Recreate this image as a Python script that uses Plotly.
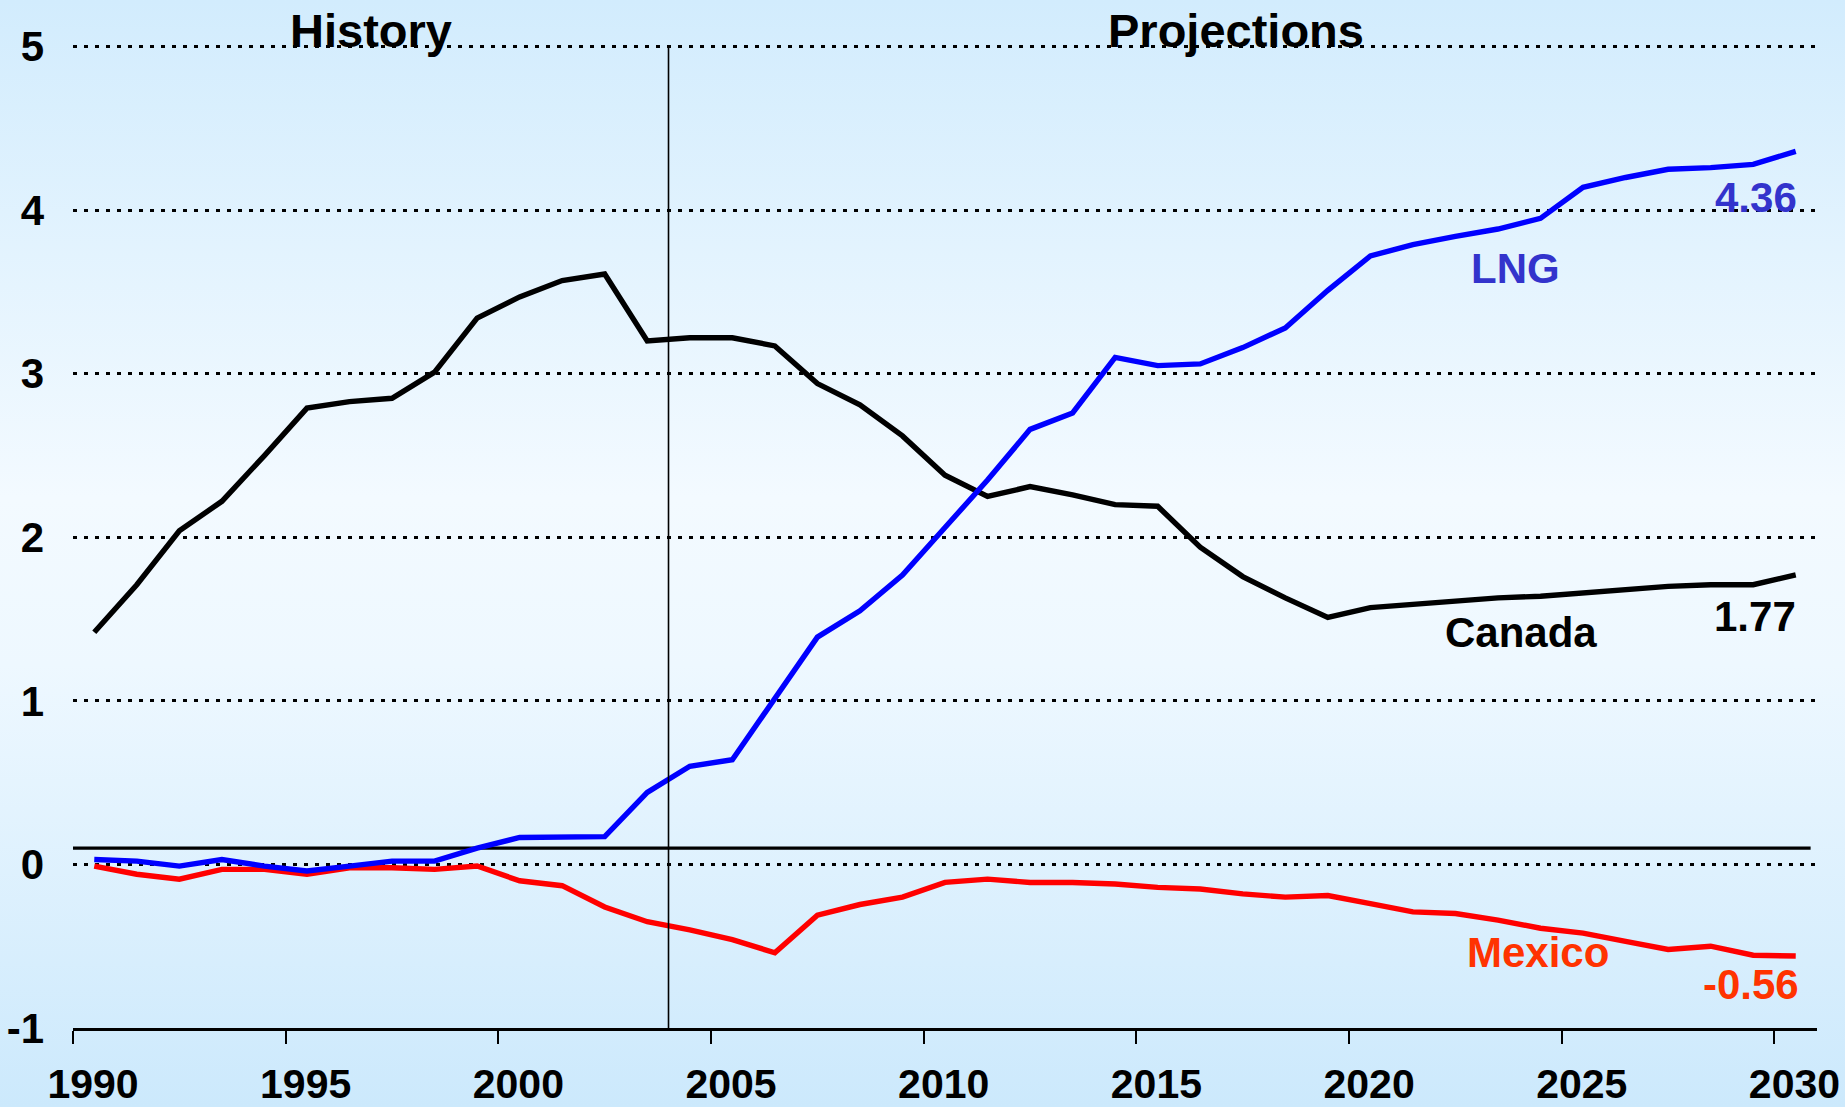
import base64
import plotly.graph_objects as go

# ---------------- data ----------------
years = list(range(1990, 2031))

canada = [1.42, 1.71, 2.04, 2.22, 2.50, 2.79, 2.83, 2.85, 3.01, 3.34,
          3.47, 3.57, 3.61, 3.20, 3.22, 3.22, 3.17, 2.94, 2.81, 2.62,
          2.38, 2.25, 2.31, 2.26, 2.20, 2.19, 1.94, 1.76, 1.63, 1.51,
          1.57, 1.59, 1.61, 1.63, 1.64, 1.66, 1.68, 1.70, 1.71, 1.71, 1.77]

lng = [0.03, 0.02, -0.01, 0.03, -0.01, -0.04, -0.01, 0.02, 0.02, 0.10,
       0.165, 0.17, 0.17, 0.44, 0.60, 0.64, 1.02, 1.39, 1.55, 1.77,
       2.06, 2.35, 2.66, 2.76, 3.10, 3.05, 3.06, 3.16, 3.28, 3.51,
       3.72, 3.79, 3.84, 3.885, 3.95, 4.14, 4.20, 4.25, 4.26, 4.28, 4.36]

mexico = [-0.01, -0.06, -0.09, -0.03, -0.03, -0.06, -0.02, -0.02, -0.03, -0.01,
          -0.10, -0.13, -0.26, -0.35, -0.40, -0.46, -0.54, -0.31, -0.245, -0.20,
          -0.11, -0.09, -0.11, -0.11, -0.12, -0.14, -0.15, -0.18, -0.20, -0.19,
          -0.24, -0.29, -0.30, -0.34, -0.39, -0.42, -0.47, -0.52, -0.50, -0.555, -0.56]

x_ticks = [1990, 1995, 2000, 2005, 2010, 2015, 2020, 2025, 2030]
y_ticks = [-1, 0, 1, 2, 3, 4, 5]

divider_year = 2004
baseline_value = 0.1

end_labels = {"LNG": "4.36", "Canada": "1.77", "Mexico": "-0.56"}

# ---------------- layout constants ----------------
W, H = 1845, 1107
ML, MR, MT, MB = 73, 28, 45, 79
FONT = "Liberation Sans, Arial, sans-serif"
pw, ph = W - ML - MR, H - MT - MB

xpos = [y + 0.5 for y in years]  # points sit in the middle of each year

fig = go.Figure()

LW = 5.4
fig.add_trace(go.Scatter(x=xpos, y=canada, mode="lines", name="Canada",
                         line=dict(color="#000000", width=LW), showlegend=False))
fig.add_trace(go.Scatter(x=xpos, y=mexico, mode="lines", name="Mexico",
                         line=dict(color="#FF0000", width=LW), showlegend=False))
fig.add_trace(go.Scatter(x=xpos, y=lng, mode="lines", name="LNG",
                         line=dict(color="#0000FF", width=LW), showlegend=False))

# background gradient as an SVG image
svg = f'''<svg xmlns="http://www.w3.org/2000/svg" width="{W}" height="{H}" viewBox="0 0 {W} {H}" preserveAspectRatio="none">
<defs><linearGradient id="g" x1="0" y1="0" x2="0" y2="1">
<stop offset="0" stop-color="#D2ECFD"/>
<stop offset="0.45" stop-color="#F3FAFF"/>
<stop offset="0.6" stop-color="#EEF8FF"/>
<stop offset="1" stop-color="#CCE9FC"/>
</linearGradient></defs>
<rect x="0" y="0" width="{W}" height="{H}" fill="url(#g)"/></svg>'''
src = "data:image/svg+xml;base64," + base64.b64encode(svg.encode()).decode()
fig.add_layout_image(dict(source=src, xref="paper", yref="paper",
                          x=-ML / pw, y=1 + MT / ph, sizex=W / pw, sizey=H / ph,
                          xanchor="left", yanchor="top", sizing="stretch",
                          layer="below"))

# reference lines
fig.add_shape(type="line", xref="x", yref="y", x0=divider_year, x1=divider_year,
              y0=-1, y1=5, line=dict(color="#000000", width=1.6), layer="above")
fig.add_shape(type="line", xref="x", yref="y", x0=1989.84, x1=2030.85,
              y0=baseline_value, y1=baseline_value,
              line=dict(color="#000000", width=3.2), layer="below")

def ann(text, x, y, color, size=42, yref="y"):
    fig.add_annotation(x=x, y=y, xref="x", yref=yref, text=text, showarrow=False,
                       xanchor="center", yanchor="middle",
                       font=dict(family=FONT, size=size, color=color, weight="bold"))

title_y = (H - MB - 30) / ph  # paper coordinate of the heading centre
ann("History", 1997.0, title_y, "#000000", size=47, yref="paper")
ann("Projections", 2017.34, title_y, "#000000", size=47, yref="paper")
ann("LNG", 2023.92, 3.646, "#3333CC")
ann(end_labels["LNG"], 2029.57, 4.08, "#3333CC")
ann("Canada", 2024.04, 1.418, "#000000")
ann(end_labels["Canada"], 2029.54, 1.513, "#000000")
ann("Mexico", 2024.44, -0.536, "#FF3300")
ann(end_labels["Mexico"], 2029.45, -0.737, "#FF3300")

fig.update_layout(
    width=W, height=H,
    margin=dict(l=ML, r=MR, t=MT, b=MB, autoexpand=False),
    paper_bgcolor="#E4F3FE",
    plot_bgcolor="rgba(0,0,0,0)",
    font=dict(family=FONT, color="#000000"),
    showlegend=False,
)

fig.update_xaxes(
    range=[1990, 2031], tickmode="array", tickvals=x_ticks,
    ticktext=[str(v) for v in x_ticks], automargin=False,
    showgrid=False, zeroline=False,
    showline=True, linecolor="#000000", linewidth=2.5,
    ticks="outside", ticklen=13, tickwidth=2, tickcolor="#000000",
    tickfont=dict(family=FONT, size=41, color="#000000", weight="bold"),
    ticklabelshift=20, ticklabelstandoff=5,
)

fig.update_yaxes(
    range=[-1, 5.01], tickmode="array", tickvals=y_ticks,
    ticktext=[str(v) for v in y_ticks], automargin=False,
    showgrid=True, gridcolor="#000000", gridwidth=2.6, griddash="4px,7px",
    zeroline=False, showline=False, ticks="",
    tickfont=dict(family=FONT, size=42, color="#000000", weight="bold"),
    ticklabelstandoff=28,
)

fig.write_html(
    "out.html",
    config={"displayModeBar": False},
    post_script="document.body.style.margin='0';document.body.style.overflow='hidden';",
)
